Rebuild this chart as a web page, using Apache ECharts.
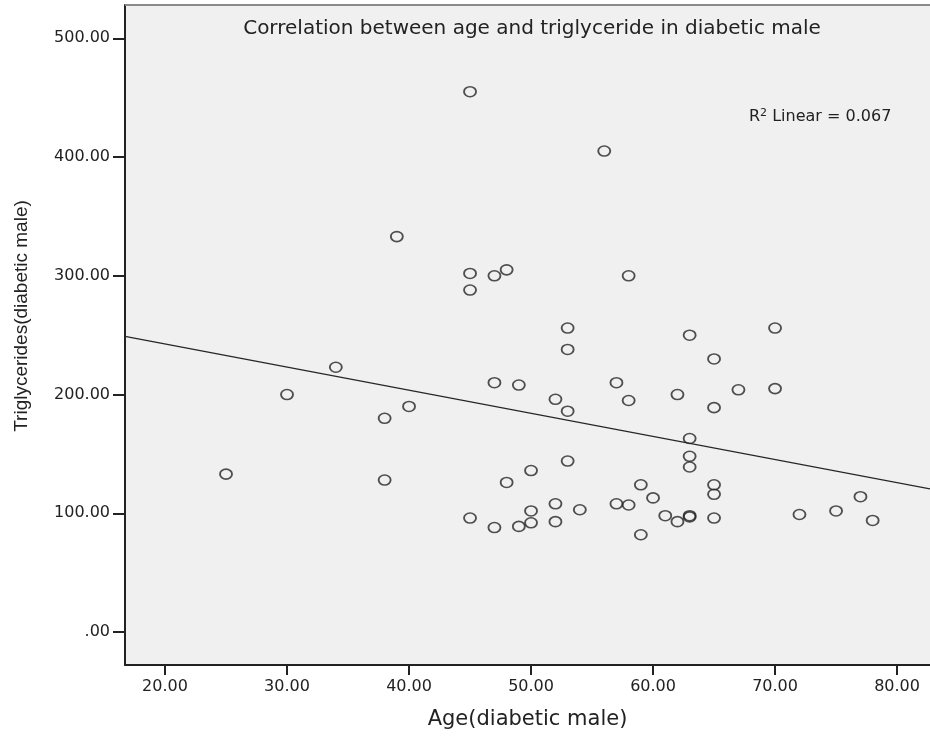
<!DOCTYPE html>
<html>
<head>
<meta charset="utf-8">
<script src="https://cdn.jsdelivr.net/npm/echarts@6/dist/echarts.min.js"></script>
<style>
    html, body { margin: 0; padding: 0; background: #fff; }
    #main { width: 930px; height: 740px; }
</style>
</head>
<body>
<div id="main"></div>
<script>
// ages of the diabetic males (x)
let ages = [25, 30, 34, 38, 38, 39, 40, 45, 45, 45, 45, 47, 47, 47, 48, 48, 49, 49,
    50, 50, 50, 52, 52, 52, 53, 53, 53, 53, 54, 56, 57, 57, 58, 58, 58, 59, 59, 60,
    61, 62, 62, 63, 63, 63, 63, 63, 63, 65, 65, 65, 65, 65, 67, 70, 70, 72, 75, 77, 78];
// triglycerides (y), same order
let tg = [133, 200, 223, 180, 128, 333, 190, 455, 302, 288, 96, 300, 210, 88, 305, 126, 208, 89,
    136, 102, 92, 196, 108, 93, 256, 238, 186, 144, 103, 405, 210, 108, 300, 195, 107, 124, 82, 113,
    98, 200, 93, 250, 163, 148, 139, 98, 97, 230, 189, 124, 116, 96, 204, 256, 205, 99, 102, 114, 94];

// fit line ends
let fitX = [16.72, 82.7];
let fitY = [249, 120.6];

let xTicks = [20, 30, 40, 50, 60, 70, 80];
let yTicks = [0, 100, 200, 300, 400, 500];

let points = ages.map((a, i) => [a, tg[i]]);
let fit = fitX.map((a, i) => [a, fitY[i]]);

let chart = echarts.init(document.getElementById('main'));
let wide = '"DejaVu Sans", sans-serif';
let narrow = '"Liberation Sans", Arial, sans-serif';

let option = {
    backgroundColor: '#fff',
    animation: false,
    grid: {
        left: 125, top: 5, right: 0, bottom: 75,
        show: true, backgroundColor: '#f0f0f0', borderWidth: 0
    },
    xAxis: {
        type: 'value',
        min: 16.72, max: 82.7,
        name: 'Age(diabetic male)',
        nameLocation: 'middle',
        nameGap: 44,
        nameTextStyle: { fontFamily: wide, fontSize: 21, color: '#222' },
        axisLine: { onZero: false, lineStyle: { color: '#222', width: 2 } },
        axisTick: { customValues: xTicks, length: 10, lineStyle: { color: '#222', width: 2 } },
        axisLabel: {
            customValues: xTicks, margin: 14,
            fontFamily: wide, fontSize: 16, color: '#222',
            formatter: v => v.toFixed(2)
        },
        splitLine: { show: false }
    },
    yAxis: {
        type: 'value',
        min: -27.7, max: 528,
        axisLine: { show: true, onZero: false, lineStyle: { color: '#222', width: 2 } },
        axisTick: { show: true, customValues: yTicks, length: 12, lineStyle: { color: '#222', width: 2 } },
        axisLabel: {
            customValues: yTicks, margin: 15,
            fontFamily: wide, fontSize: 16, color: '#222',
            formatter: v => v === 0 ? '.00' : v.toFixed(2)
        },
        splitLine: { show: false }
    },
    graphic: [
        {
            type: 'rect', z: 100,
            shape: { x: 125, y: 4, width: 805, height: 2 },
            style: { fill: '#8a8a8a' }
        },
        {
            type: 'text', z: 100,
            x: 532, y: 29,
            style: {
                text: 'Correlation between age and triglyceride in diabetic male',
                fontFamily: wide, fontSize: 20, fill: '#222',
                align: 'center', verticalAlign: 'middle'
            }
        },
        {
            type: 'text', z: 100,
            x: 749, y: 117,
            style: {
                text: '{r|R}{s|2}{r| Linear = 0.067}',
                verticalAlign: 'middle',
                rich: {
                    r: { fontFamily: wide, fontSize: 16, fill: '#222' },
                    s: { fontFamily: wide, fontSize: 11, fill: '#222', verticalAlign: 'top', padding: [0, 0, 7, 0] }
                }
            }
        },
        {
            type: 'text', z: 100,
            x: 22, y: 316, rotation: Math.PI / 2,
            style: {
                text: 'Triglycerides(diabetic male)',
                fontFamily: narrow, fontSize: 19, fill: '#222',
                align: 'center', verticalAlign: 'middle'
            }
        }
    ],
    series: [
        {
            type: 'scatter',
            data: points,
            symbol: 'circle',
            symbolSize: [12, 10],
            itemStyle: { color: 'rgba(0,0,0,0)', borderColor: '#262626', borderWidth: 1.7 }
        },
        {
            type: 'line',
            data: fit,
            symbol: 'none',
            lineStyle: { color: '#262626', width: 1.3 }
        }
    ]
};
chart.setOption(option);
</script>
</body>
</html>
